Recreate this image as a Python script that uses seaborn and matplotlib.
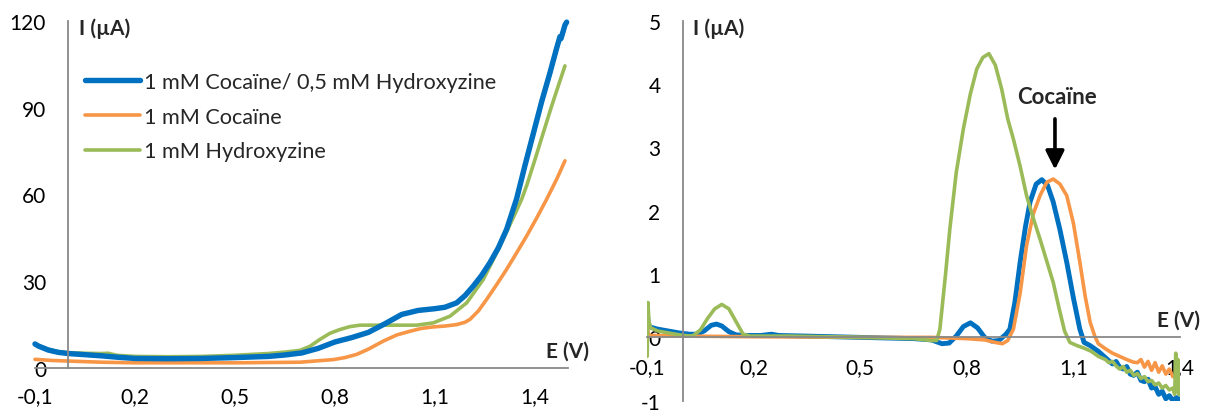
import matplotlib
matplotlib.use("Agg")
import matplotlib.pyplot as plt
import seaborn as sns

# ---------------- data ----------------
# Linear sweep (left): potential E (V) and current I (µA)
lsv_mix_e = [-0.10, -0.09, -0.06, -0.03, 0.00, 0.05, 0.10, 0.15, 0.20, 0.30, 0.40, 0.50,
             0.60, 0.65, 0.70, 0.75, 0.80, 0.85, 0.90, 0.95, 1.00, 1.05, 1.10, 1.13,
             1.165, 1.19, 1.215, 1.24, 1.265, 1.29, 1.315, 1.345, 1.37, 1.395, 1.42,
             1.445, 1.465, 1.475, 1.478, 1.485, 1.49, 1.495]
lsv_mix_i = [8.3, 7.6, 6.2, 5.4, 5.0, 4.6, 4.2, 3.7, 3.3, 3.2, 3.3, 3.6,
             4.0, 4.5, 5.2, 6.8, 9.0, 10.5, 12.3, 15.3, 18.5, 19.9, 20.5, 21.0,
             22.5, 25.0, 28.3, 32.0, 36.4, 41.5, 47.9, 58.5, 70.0, 81.0, 92.0,
             102.0, 110.5, 114.5, 113.8, 116.5, 118.5, 119.5]

lsv_coc_e = [-0.10, -0.05, 0.00, 0.10, 0.20, 0.50, 0.60, 0.695, 0.795, 0.83, 0.865, 0.90,
             0.945, 0.985, 1.025, 1.06, 1.095, 1.13, 1.165, 1.19, 1.205, 1.23, 1.255,
             1.285, 1.315, 1.345, 1.375, 1.405, 1.435, 1.465, 1.49]
lsv_coc_i = [3.0, 2.6, 2.4, 2.0, 1.8, 1.8, 1.9, 2.0, 2.9, 3.6, 4.7, 6.5,
             9.3, 11.4, 12.7, 13.7, 14.2, 14.5, 15.0, 15.8, 16.8, 19.7, 23.7,
             28.8, 34.1, 39.8, 45.6, 51.8, 58.3, 65.2, 71.6]

lsv_hyd_e = [-0.10, -0.09, -0.06, -0.03, 0.00, 0.05, 0.10, 0.12, 0.145, 0.20, 0.30, 0.40,
             0.50, 0.60, 0.65, 0.695, 0.725, 0.755, 0.785, 0.815, 0.845, 0.875, 0.945,
             1.045, 1.095, 1.145, 1.195, 1.245, 1.295, 1.345, 1.36, 1.375, 1.40, 1.425,
             1.45, 1.47, 1.49]
lsv_hyd_i = [8.3, 7.8, 6.5, 5.6, 5.3, 5.1, 5.0, 5.1, 4.4, 4.0, 3.9, 4.0,
             4.4, 5.0, 5.5, 6.1, 7.5, 9.9, 12.0, 13.3, 14.3, 14.8, 14.8,
             14.8, 15.6, 17.9, 22.5, 30.6, 42.1, 54.5, 58.3, 63.0, 72.0, 81.3,
             90.5, 97.5, 104.4]

# Differential pulse (right): potential E (V) and current I (µA)
dpv_mix_e = [-0.100, -0.097, -0.09, -0.07, -0.04, -0.01, 0.02, 0.04, 0.06, 0.08, 0.095,
             0.11, 0.13, 0.15, 0.18, 0.22, 0.25, 0.27, 0.35, 0.50, 0.65, 0.70, 0.73,
             0.75, 0.77, 0.79, 0.81, 0.83, 0.85, 0.87, 0.89, 0.91, 0.921, 0.935, 0.95,
             0.965, 0.978, 0.995, 1.011, 1.027, 1.043, 1.062, 1.081, 1.10, 1.118, 1.13,
             1.147, 1.17, 1.194, 1.21, 1.22, 1.23, 1.24, 1.25, 1.26, 1.27, 1.28, 1.29,
             1.30, 1.31, 1.32, 1.33, 1.34, 1.35, 1.36, 1.37, 1.38, 1.39, 1.395, 1.40]
dpv_mix_i = [0.40, 0.20, 0.16, 0.13, 0.10, 0.07, 0.05, 0.05, 0.10, 0.19, 0.21,
             0.18, 0.09, 0.04, 0.03, 0.03, 0.05, 0.03, 0.02, 0.00, -0.02, -0.04, -0.10,
             -0.09, 0.02, 0.17, 0.23, 0.15, 0.00, -0.06, -0.05, 0.05, 0.13, 0.55, 1.19,
             1.75, 2.14, 2.42, 2.49, 2.40, 2.14, 1.70, 1.19, 0.62, 0.13, -0.08,
             -0.13, -0.22, -0.34, -0.42, -0.38, -0.47, -0.50, -0.46, -0.58, -0.60, -0.55, -0.68,
             -0.70, -0.66, -0.80, -0.78, -0.90, -0.85, -0.97, -0.92, -1.00, -0.95, -1.00, -0.97]

dpv_coc_e = [-0.100, -0.097, -0.09, 0.00, 0.20, 0.50, 0.70, 0.80, 0.85, 0.88, 0.90, 0.915,
             0.931, 0.95, 0.968, 0.987, 1.006, 1.025, 1.043, 1.062, 1.081, 1.10, 1.118,
             1.133, 1.147, 1.16, 1.17, 1.19, 1.21, 1.23, 1.25, 1.268, 1.28, 1.29, 1.30,
             1.31, 1.32, 1.33, 1.34, 1.35, 1.36, 1.37, 1.38, 1.39, 1.40]
dpv_coc_i = [0.20, 0.05, 0.03, 0.02, 0.01, 0.00, 0.00, -0.02, -0.04, -0.08, -0.10, -0.05,
             0.13, 0.70, 1.45, 1.95, 2.24, 2.45, 2.50, 2.42, 2.24, 1.80, 1.19,
             0.65, 0.24, 0.02, -0.10, -0.18, -0.25, -0.30, -0.35, -0.39, -0.40, -0.35, -0.47,
             -0.38, -0.52, -0.40, -0.55, -0.45, -0.58, -0.50, -0.62, -0.60, -0.63]

dpv_hyd_e = [-0.100, -0.098, -0.095, -0.09, -0.07, -0.04, -0.01, 0.02, 0.03, 0.05, 0.07,
             0.09, 0.11, 0.13, 0.15, 0.17, 0.19, 0.30, 0.50, 0.65, 0.70, 0.715, 0.724,
             0.74, 0.752, 0.77, 0.79, 0.81, 0.828, 0.845, 0.862, 0.88, 0.898, 0.915,
             0.931, 0.95, 0.968, 0.987, 1.006, 1.025, 1.043, 1.06, 1.075, 1.09, 1.11,
             1.13, 1.15, 1.17, 1.19, 1.20, 1.21, 1.22, 1.23, 1.24, 1.25, 1.26, 1.27,
             1.28, 1.29, 1.30, 1.31, 1.32, 1.33, 1.34, 1.35, 1.36, 1.37, 1.38, 1.385,
             1.388, 1.391, 1.394, 1.397, 1.40]
dpv_hyd_i = [-0.30, 0.55, 0.25, 0.15, 0.10, 0.07, 0.04, 0.02, 0.03, 0.12, 0.30,
             0.45, 0.52, 0.45, 0.25, 0.05, 0.02, 0.02, 0.00, -0.02, -0.05, -0.05, 0.13,
             1.00, 1.71, 2.60, 3.29, 3.85, 4.24, 4.42, 4.48, 4.30, 3.92, 3.45,
             3.13, 2.70, 2.24, 1.88, 1.55, 1.20, 0.87, 0.45, 0.10, -0.08, -0.13,
             -0.17, -0.22, -0.30, -0.35, -0.40, -0.38, -0.45, -0.50, -0.46, -0.55, -0.52, -0.60,
             -0.57, -0.65, -0.62, -0.70, -0.68, -0.75, -0.72, -0.80, -0.76, -0.83, -0.80, -0.90,
             -0.25, -0.85, -0.35, -0.90, -0.55]

series_labels = ["1 mM Cocaïne/ 0,5 mM Hydroxyzine", "1 mM Cocaïne", "1 mM Hydroxyzine"]

x_ticks = [-0.1, 0.2, 0.5, 0.8, 1.1, 1.4]
x_tick_labels = ["-0,1", "0,2", "0,5", "0,8", "1,1", "1,4"]
y_ticks_left = [0, 30, 60, 90, 120]
y_ticks_right = [-1, 0, 1, 2, 3, 4, 5]

# ---------------- style ----------------
sns.set_theme(style="white")
plt.rcParams["font.family"] = ["Lato", "DejaVu Sans"]
plt.rcParams["lines.solid_capstyle"] = "round"
plt.rcParams["lines.solid_joinstyle"] = "round"

BLUE = "#0070C0"
ORANGE = "#F79646"
GREEN = "#9BBB59"
AXIS_GRAY = "#898989"
W, H = 1207, 414
LW_THICK = 3.9
LW_THIN = 2.6

fig = plt.figure(figsize=(W / 100, H / 100), dpi=100)
ax1 = fig.add_axes([35 / W, (H - 369) / H, 533.3 / W, 347.3 / H])
ax2 = fig.add_axes([647.2 / W, (H - 401.7) / H, 532.8 / W, 380 / H])


def style_axes(ax, xlim, ylim, yticks, xpad):
    ax.set_xlim(*xlim)
    ax.set_ylim(*ylim)
    ax.spines["top"].set_visible(False)
    ax.spines["right"].set_visible(False)
    ax.spines["left"].set_position(("data", 0))
    ax.spines["bottom"].set_position(("data", 0))
    for s in ("left", "bottom"):
        ax.spines[s].set_color(AXIS_GRAY)
        ax.spines[s].set_linewidth(1.3)
    ax.set_xticks(x_ticks)
    ax.set_xticklabels(x_tick_labels)
    ax.set_yticks(yticks)
    ax.set_yticklabels([str(v) for v in yticks])
    ax.tick_params(axis="both", which="major", direction="out", length=5,
                   width=1.3, color=AXIS_GRAY, labelsize=15, labelcolor="black")
    ax.tick_params(axis="y", pad=11)
    ax.tick_params(axis="x", pad=xpad)
    ax.set_xlabel("")
    ax.set_ylabel("")
    ax.grid(False)
    ax.patch.set_alpha(0)


# ---------------- left panel ----------------
sns.lineplot(x=lsv_coc_e, y=lsv_coc_i, ax=ax1, color=ORANGE, linewidth=LW_THIN,
             sort=False, estimator=None, label=series_labels[1])
sns.lineplot(x=lsv_hyd_e, y=lsv_hyd_i, ax=ax1, color=GREEN, linewidth=LW_THIN,
             sort=False, estimator=None, label=series_labels[2])
sns.lineplot(x=lsv_mix_e, y=lsv_mix_i, ax=ax1, color=BLUE, linewidth=LW_THICK,
             sort=False, estimator=None, label=series_labels[0])
style_axes(ax1, (-0.1, 1.5), (0, 120), y_ticks_left, xpad=8)
for ln in ax1.get_lines():
    ln.set_clip_on(False)

handles, labels = ax1.get_legend_handles_labels()
order = [labels.index(l) for l in series_labels]
ax1.legend([handles[i] for i in order], [labels[i] for i in order],
           loc="upper left", bbox_to_anchor=((85 - 35) / 533.3, (369 - 73) / 347.3),
           frameon=False, fontsize=15.6, handlelength=2.55, handletextpad=0.15,
           labelspacing=0.68, borderpad=0, borderaxespad=0)

ax1.text(0.032, 117.5, "I (µA)", fontsize=15, fontweight="bold", ha="left", va="center")
ax1.text(1.497, 6.0, "E (V)", fontsize=15, fontweight="bold", ha="center", va="center",
         clip_on=False)

# ---------------- right panel ----------------
sns.lineplot(x=dpv_mix_e, y=dpv_mix_i, ax=ax2, color=BLUE, linewidth=LW_THICK - 0.4,
             sort=False, estimator=None)
sns.lineplot(x=dpv_coc_e, y=dpv_coc_i, ax=ax2, color=ORANGE, linewidth=LW_THIN,
             sort=False, estimator=None)
sns.lineplot(x=dpv_hyd_e, y=dpv_hyd_i, ax=ax2, color=GREEN, linewidth=LW_THIN,
             sort=False, estimator=None)
style_axes(ax2, (-0.1, 1.4), (-1, 5), y_ticks_right, xpad=9)

ax2.text(0.029, 4.89, "I (µA)", fontsize=15, fontweight="bold", ha="left", va="center")
ax2.text(1.397, 0.28, "E (V)", fontsize=15, fontweight="bold", ha="center", va="center",
         clip_on=False)
ax2.text(1.054, 3.80, "Cocaïne", fontsize=16, fontweight="bold", ha="center", va="center")
ax2.annotate("", xy=(1.048, 2.65), xytext=(1.048, 3.45),
             arrowprops=dict(arrowstyle="-|>,head_length=0.8,head_width=0.4",
                             mutation_scale=14, lw=2.6, color="black",
                             shrinkA=0, shrinkB=0))

fig.savefig("out.png", dpi=100)
